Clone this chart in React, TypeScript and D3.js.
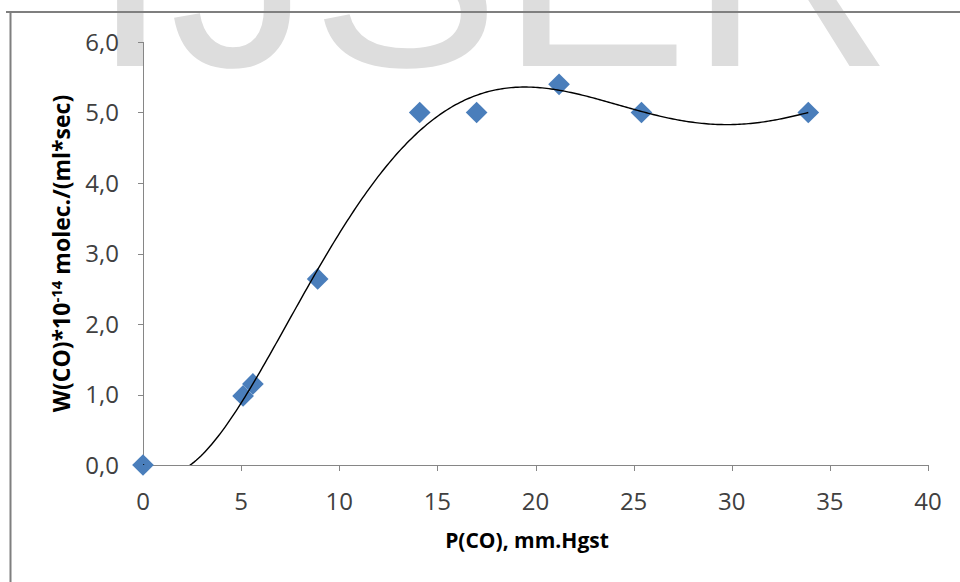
import React from "react";
import * as d3 from "d3";

const pressure = [0, 5.1, 5.6, 8.9, 14.1, 17.0, 21.2, 25.4, 33.9];
const rate = [0, 0.98, 1.15, 2.64, 5.0, 5.0, 5.4, 5.0, 5.0];
const xTicks = [0, 5, 10, 15, 20, 25, 30, 35, 40];
const yTicks = [0, 1, 2, 3, 4, 5, 6];
const trendOrder = 5;

function polyFit(xs: number[], ys: number[], order: number, scale: number) {
  const n = order + 1;
  const A: number[][] = Array.from({ length: n }, () => new Array(n + 1).fill(0));
  xs.forEach((xv, k) => {
    const x = xv / scale;
    for (let i = 0; i < n; i++) {
      for (let j = 0; j < n; j++) A[i][j] += Math.pow(x, i + j);
      A[i][n] += Math.pow(x, i) * ys[k];
    }
  });
  for (let c = 0; c < n; c++) {
    let p = c;
    for (let r = c + 1; r < n; r++) if (Math.abs(A[r][c]) > Math.abs(A[p][c])) p = r;
    [A[c], A[p]] = [A[p], A[c]];
    for (let r = 0; r < n; r++) {
      if (r === c) continue;
      const f = A[r][c] / A[c][c];
      for (let k = c; k <= n; k++) A[r][k] -= f * A[c][k];
    }
  }
  const coef = A.map((row, i) => row[n] / row[i]);
  return (xv: number) => {
    const x = xv / scale;
    let s = 0;
    for (let i = n - 1; i >= 0; i--) s = s * x + coef[i];
    return s;
  };
}

export default function App() {
  const W = 960, H = 582;
  const x = d3.scaleLinear().domain([0, 40]).range([143, 928]);
  const y = d3.scaleLinear().domain([0, 6]).range([465, 42]);
  const f = polyFit(pressure, rate, trendOrder, 40);
  const xmin = d3.min(pressure)!, xmax = d3.max(pressure)!;
  const samples = d3.range(0, 301).map((i) => xmin + ((xmax - xmin) * i) / 300);
  const line = d3.line<number>().x((d) => x(d)).y((d) => y(f(d))).curve(d3.curveLinear);
  const diamond = d3.symbol().type(d3.symbolDiamond2).size(300)();
  const tickFont = "'Open Sans', 'Noto Sans', sans-serif";
  return (
    <svg width={W} height={H} style={{ position: "absolute", left: 0, top: 0, display: "block", background: "#fff" }}>
      <defs>
        <clipPath id="plot">
          <rect x={143} y={42} width={785} height={423} />
        </clipPath>
      </defs>
      <text x={91} y={66} fontFamily="'Liberation Sans', Arial, sans-serif" fontSize={283} fill="#dddddd">IJSER</text>
      <line x1={6} x2={960} y1={12} y2={12} stroke="#7f7f7f" strokeWidth={2} />
      <line x1={10.5} x2={10.5} y1={11} y2={582} stroke="#7f7f7f" strokeWidth={2} />
      <line x1={143.5} x2={143.5} y1={42} y2={465} stroke="#868686" strokeWidth={1} />
      <line x1={143} x2={928} y1={465.5} y2={465.5} stroke="#868686" strokeWidth={1} />
      {yTicks.map((t) => (
        <g key={"y" + t}>
          <line x1={138} x2={143} y1={Math.round(y(t)) + 0.5} y2={Math.round(y(t)) + 0.5} stroke="#868686" />
          <text x={119} y={y(t) + 8.5} textAnchor="end" fontFamily={tickFont} fontSize={24} fill="#404040">
            {d3.format(".1f")(t).replace(".", ",")}
          </text>
        </g>
      ))}
      {xTicks.map((t) => (
        <g key={"x" + t}>
          <line x1={Math.round(x(t)) + 0.5} x2={Math.round(x(t)) + 0.5} y1={465} y2={471} stroke="#868686" />
          <text x={x(t)} y={510} textAnchor="middle" fontFamily={tickFont} fontSize={24} fill="#404040">
            {t}
          </text>
        </g>
      ))}
      <text x={527} y={548} textAnchor="middle" fontFamily={tickFont} fontSize={21} fontWeight="bold" fill="#000">
        P(CO), mm.Hgst
      </text>
      <text transform={`translate(70,253.5) rotate(-90)`} textAnchor="middle" fontFamily={tickFont} fontSize={23} fontWeight="bold" fill="#000">
        W(CO)*10<tspan fontSize={15} dy={-8}>-14</tspan><tspan dy={8}> molec./(ml*sec)</tspan>
      </text>
      {pressure.map((p, i) => (
        <path key={"m" + i} d={diamond!} transform={`translate(${x(p)},${y(rate[i])})`} fill="#4a7ebb" />
      ))}
      <path d={line(samples)!} fill="none" stroke="#000" strokeWidth={1.4} clipPath="url(#plot)" />
    </svg>
  );
}
